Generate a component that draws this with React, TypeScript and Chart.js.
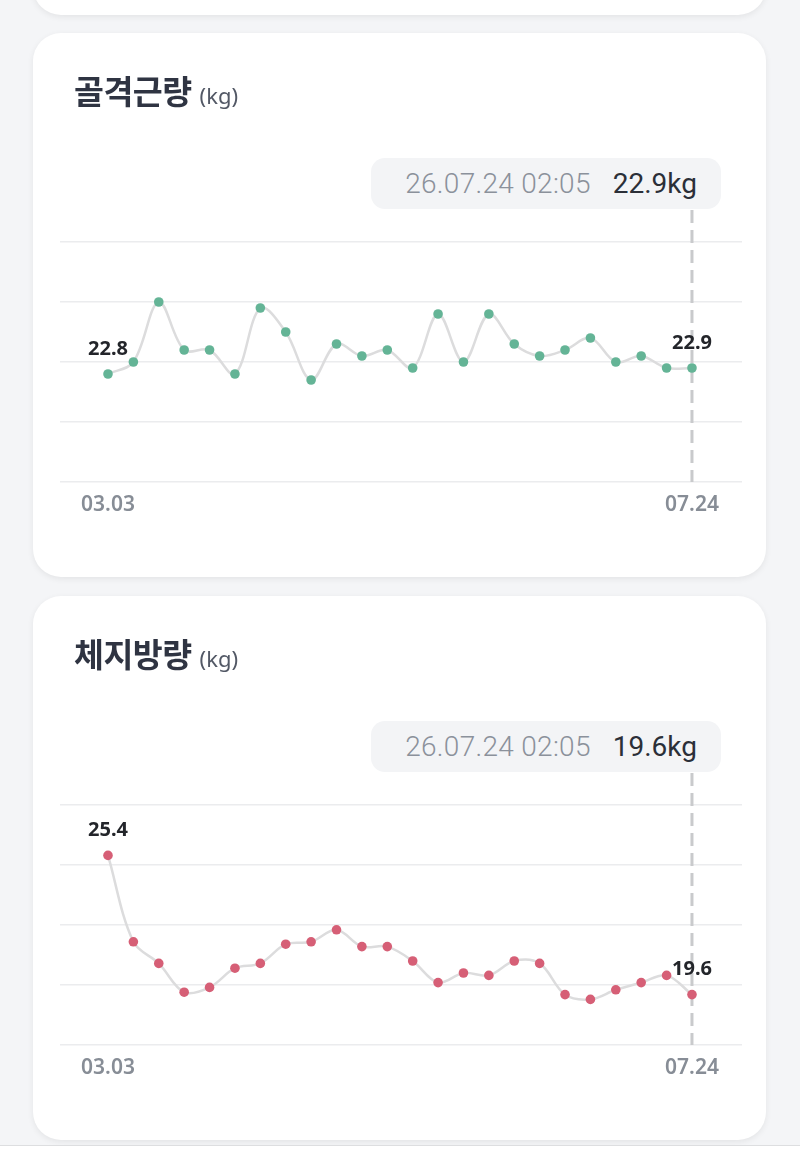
import { useEffect, useRef } from "react";
import { Chart, registerables, Plugin } from "chart.js";

Chart.register(...registerables);

// x labels shown under the first and last point
const startDate = "03.03";
const endDate = "07.24";

// 골격근량 (kg), 24 measurements
const muscleValues = [
  22.8, 23.0, 24.0, 23.2, 23.2, 22.8, 23.9, 23.5, 22.7, 23.3, 23.1, 23.2,
  22.9, 23.8, 23.0, 23.8, 23.3, 23.1, 23.2, 23.4, 23.0, 23.1, 22.9, 22.9,
];

// 체지방량 (kg), 24 measurements
const fatValues = [
  25.4, 21.8, 20.9, 19.7, 19.9, 20.7, 20.9, 21.7, 21.8, 22.3, 21.6, 21.6,
  21.0, 20.1, 20.5, 20.4, 21.0, 20.9, 19.6, 19.4, 19.8, 20.1, 20.4, 19.6,
];

const lastDate = "26.07.24 02:05";

const FONT = "'Noto Sans', 'Noto Sans CJK KR', sans-serif";

const overlayPlugin: Plugin<"line"> = {
  id: "overlay",
  beforeDatasetsDraw(chart) {
    const meta = chart.getDatasetMeta(0);
    const last = meta.data[meta.data.length - 1];
    const { ctx, chartArea } = chart;
    ctx.save();
    ctx.strokeStyle = "#c9cacc";
    ctx.lineWidth = 3;
    ctx.setLineDash([13, 7]);
    ctx.beginPath();
    ctx.moveTo(last.x, chartArea.top - 32);
    ctx.lineTo(last.x, chartArea.bottom);
    ctx.stroke();
    ctx.restore();
  },
  afterDatasetsDraw(chart) {
    const meta = chart.getDatasetMeta(0);
    const values = chart.data.datasets[0].data as { x: number; y: number }[];
    const first = meta.data[0];
    const last = meta.data[meta.data.length - 1];
    const { ctx, chartArea } = chart;
    ctx.save();
    ctx.textAlign = "center";
    ctx.textBaseline = "middle";
    ctx.fillStyle = "#23252a";
    ctx.font = `bold 20px ${FONT}`;
    ctx.fillText(values[0].y.toFixed(1), first.x, first.y - 25);
    ctx.fillText(values[values.length - 1].y.toFixed(1), last.x, last.y - 25);
    ctx.fillStyle = "#878d96";
    ctx.font = `600 21px ${FONT}`;
    ctx.fillText(startDate, first.x, chartArea.bottom + 23);
    ctx.fillText(endDate, last.x, chartArea.bottom + 23);
    ctx.restore();
  },
};

interface IProps {
  title: string;
  values: number[];
  color: string;
  yMin: number;
  yMax: number;
  yStep: number;
}

const ChartCard = ({ title, values, color, yMin, yMax, yStep }: IProps) => {
  const canvasRef = useRef<HTMLCanvasElement>(null);

  useEffect(() => {
    if (!canvasRef.current) return;
    const chart = new Chart(canvasRef.current, {
      type: "line",
      data: {
        datasets: [
          {
            data: values.map((v, i) => ({ x: i, y: v })),
            borderColor: "#dcdcdd",
            borderWidth: 2.5,
            tension: 0.35,
            pointRadius: 4.8,
            pointBackgroundColor: color,
            pointBorderColor: color,
            pointBorderWidth: 0,
          },
        ],
      },
      options: {
        animation: false,
        responsive: false,
        events: [],
        layout: { padding: { left: 27, right: 24, top: 209, bottom: 95 } },
        plugins: { legend: { display: false }, tooltip: { enabled: false } },
        scales: {
          x: {
            type: "linear",
            display: false,
            min: -1.89,
            max: 24.97,
          },
          y: {
            min: yMin,
            max: yMax,
            border: { display: false },
            ticks: { display: false, stepSize: yStep },
            grid: { color: "#ebecee", lineWidth: 1.5, drawTicks: false },
          },
        },
      },
      plugins: [overlayPlugin],
    });
    return () => chart.destroy();
  }, [values, color, yMin, yMax, yStep]);

  const last = values[values.length - 1];

  return (
    <div style={{ position: "absolute", inset: 0 }}>
      <canvas
        ref={canvasRef}
        width={733}
        height={544}
        style={{ position: "absolute", left: 0, top: 0, width: 733, height: 544 }}
      />
      <div
        style={{
          position: "absolute",
          left: 41,
          top: 39,
          height: 40,
          lineHeight: "40px",
          display: "flex",
          alignItems: "baseline",
          fontFamily: FONT,
          color: "#2f3442",
          whiteSpace: "nowrap",
        }}
      >
        <span style={{ fontSize: 32.5, fontWeight: 700, letterSpacing: -0.5 }}>{title}</span>
        <span style={{ fontSize: 22, color: "#535966", marginLeft: 8 }}>(kg)</span>
      </div>
      <div
        style={{
          position: "absolute",
          left: 338,
          top: 125,
          width: 350,
          height: 51,
          borderRadius: 14,
          background: "#f3f4f6",
          display: "flex",
          alignItems: "center",
          justifyContent: "flex-end",
          paddingRight: 24,
          boxSizing: "border-box",
          fontFamily: "Roboto, 'Noto Sans', sans-serif",
          fontSize: 28,
          fontWeight: 300,
          whiteSpace: "nowrap",
        }}
      >
        <span style={{ color: "#8b919b", letterSpacing: 0.3 }}>{lastDate}</span>
        <span style={{ color: "#2b2f38", marginLeft: 22, fontWeight: 400 }}>
          {last.toFixed(1)}kg
        </span>
      </div>
    </div>
  );
};

const cardStyle = (top: number): React.CSSProperties => ({
  position: "absolute",
  left: 33,
  top,
  width: 733,
  height: 544,
  borderRadius: 28,
  background: "#ffffff",
  boxShadow: "0 2px 6px rgba(0,0,0,0.07)",
  overflow: "hidden",
});

export default function App() {
  return (
    <div
      style={{
        position: "absolute",
        left: 0,
        top: 0,
        width: 800,
        height: 1161,
        background: "#f4f5f7",
        overflow: "hidden",
      }}
    >
      <div style={cardStyle(-529)} />
      <div style={cardStyle(33)}>
        <ChartCard title="골격근량" values={muscleValues} color="#64b496" yMin={21} yMax={25} yStep={1} />
      </div>
      <div style={cardStyle(596)}>
        <ChartCard title="체지방량" values={fatValues} color="#d65f76" yMin={17.5} yMax={27.5} yStep={2.5} />
      </div>
      <div
        style={{
          position: "absolute",
          left: 0,
          top: 1145,
          width: 800,
          height: 16,
          background: "#ffffff",
          borderTop: "1px solid #dddee0",
        }}
      />
    </div>
  );
}
